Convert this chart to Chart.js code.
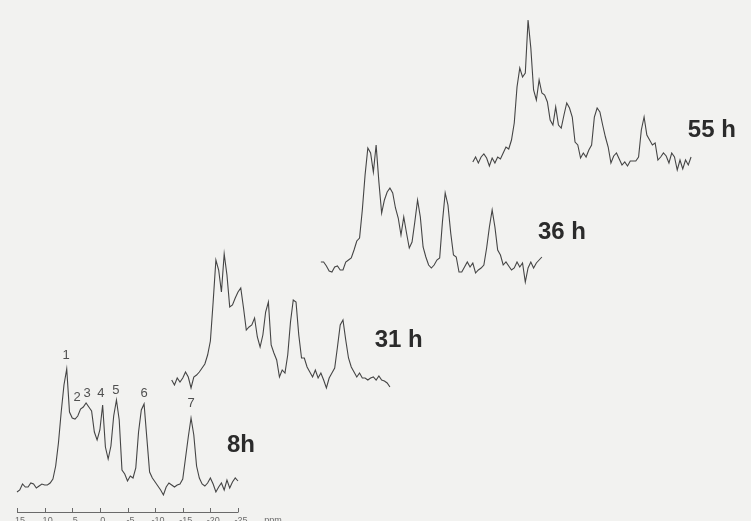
<!DOCTYPE html>
<html>
<head>
<meta charset="utf-8">
<script src="https://cdn.jsdelivr.net/npm/chart.js@4.4.1/dist/chart.umd.min.js"></script>
<style>
  html, body { margin: 0; padding: 0; background: #f2f2f0; }
  canvas { display: block; }
</style>
</head>
<body>
<canvas id="spectra" width="751" height="521"></canvas>
<script>
// sampling of every trace: 15 ppm down to -25 ppm, 0.5 ppm apart
const ppmStart = 15;
const ppmStep = 0.5;

const traceNames = ['8h', '31 h', '36 h', '55 h'];
// oblique stacking of the four spectra
const traceShiftPpm = [0, 28, 55, 82.5];
const traceBaseline = [34, 138, 253, 363];

const intensity8h = [
  -5, -3, 3, 0, 0, 4, 3, -1, 1, 3, 2, 2, 4, 8, 21, 44, 75, 102, 118, 75,
  69, 68, 71, 78, 80, 84, 80, 76, 55, 47, 57, 82, 40, 28, 41, 71, 87, 67, 17, 13,
  6, 11, 9, 19, 55, 77, 83, 49, 15, 9, 5, 1, -3, -8, 0, 4, 2, 0, 2, 3,
  8, 29, 50, 69, 52, 21, 9, 3, 1, 4, 9, 3, -5, 0, 4, -3, 7, -1, 5, 9, 6
];
const intensity31h = [
  3, -2, 5, 1, 5, 11, 6, -5, 6, 8, 11, 15, 19, 28, 42, 81, 123, 113, 91, 129,
  108, 76, 78, 85, 91, 95, 75, 53, 56, 58, 65, 46, 36, 48, 71, 81, 38, 30, 23, 6,
  13, 10, 28, 61, 83, 81, 48, 25, 25, 16, 11, 6, 13, 5, 10, 3, -5, 5, 10, 15,
  36, 58, 63, 43, 25, 16, 11, 6, 10, 5, 5, 3, 5, 6, 3, 7, 3, 2, 0, -4
];
const intensity36h = [
  6, 6, 2, -3, -4, 1, 2, -2, -2, 6, 8, 10, 18, 27, 30, 58, 93, 120, 115, 96,
  123, 86, 55, 68, 76, 80, 75, 60, 50, 33, 51, 35, 20, 26, 46, 68, 51, 21, 11, 3,
  0, 3, 8, 10, 46, 75, 63, 35, 13, 11, -4, -4, 1, 6, 1, 5, -5, -2, 0, 3,
  20, 41, 58, 41, 18, 13, 3, 6, 2, -2, 0, 6, 1, 5, -14, 0, 6, 0, 5, 8, 11
];
const intensity55h = [
  -4, 1, -5, 1, 4, 0, -8, 0, -5, 1, -1, 5, 11, 9, 18, 35, 71, 90, 81, 85,
  138, 110, 68, 58, 78, 65, 63, 56, 38, 33, 51, 33, 30, 43, 55, 50, 41, 16, 13, 0,
  5, 1, 8, 13, 41, 50, 46, 33, 21, 11, -5, 2, 5, -1, -7, -4, -8, -3, -3, -3,
  1, 28, 41, 23, 18, 13, 15, -2, 1, 5, 2, -5, 5, 1, -12, -2, -11, -2, -7, 1
];
const traceIntensities = [intensity8h, intensity31h, intensity36h, intensity55h];

// numbered resonances of the 8 h spectrum
const peakNumbers = ['1', '2', '3', '4', '5', '6', '7'];
const peakPpm = [6.1, 4.1, 2.3, -0.2, -2.9, -8.0, -16.5];

const axisTicksPpm = [15, 10, 5, 0, -5, -10, -15, -20, -25];
const axisTickLabels = ['15', '10', '5', '0', '-5', '-10', '-15', '-20', '-25'];
const axisUnit = 'ppm';

const ink = '#454545';

const datasets = traceIntensities.map((vals, t) => ({
  label: traceNames[t],
  data: vals.map((v, i) => ({
    x: ppmStart - i * ppmStep - traceShiftPpm[t],
    y: traceBaseline[t] + v
  })),
  borderColor: ink,
  borderWidth: 1.1,
  pointRadius: 0,
  tension: 0,
  fill: false
}));

const paperPlugin = {
  id: 'paper',
  beforeDraw(chart) {
    const ctx = chart.ctx;
    ctx.save();
    ctx.fillStyle = '#f2f2f0';
    ctx.fillRect(0, 0, chart.width, chart.height);
    ctx.restore();
  }
};

const annotatePlugin = {
  id: 'annotate',
  afterDatasetsDraw(chart, args, opts) {
    const ctx = chart.ctx;
    const xs = chart.scales.x;
    const ys = chart.scales.y;
    ctx.save();

    // ppm axis under the 8 h spectrum
    const axisY = ys.getPixelForValue(opts.axisLevel);
    const x0 = xs.getPixelForValue(axisTicksPpm[0]);
    const x1 = xs.getPixelForValue(axisTicksPpm[axisTicksPpm.length - 1]);
    ctx.strokeStyle = '#6a6a6a';
    ctx.lineWidth = 1;
    ctx.beginPath();
    ctx.moveTo(x0, axisY + 0.5);
    ctx.lineTo(x1, axisY + 0.5);
    axisTicksPpm.forEach(p => {
      const px = Math.round(xs.getPixelForValue(p)) + 0.5;
      ctx.moveTo(px, axisY + 0.5);
      ctx.lineTo(px, axisY - 4);
    });
    ctx.stroke();
    ctx.fillStyle = '#6a6a6a';
    ctx.font = '9px "Liberation Sans", Arial, sans-serif';
    ctx.textAlign = 'center';
    ctx.textBaseline = 'top';
    axisTicksPpm.forEach((p, k) => {
      ctx.fillText(axisTickLabels[k], xs.getPixelForValue(p) + 3, axisY + 4);
    });
    ctx.fillText(axisUnit, xs.getPixelForValue(axisTicksPpm[axisTicksPpm.length - 1]) + 35, axisY + 4);

    // peak numbers
    ctx.fillStyle = '#505050';
    ctx.font = '13px "Liberation Sans", Arial, sans-serif';
    ctx.textBaseline = 'middle';
    peakNumbers.forEach((n, k) => {
      ctx.fillText(n, xs.getPixelForValue(peakPpm[k]), ys.getPixelForValue(traceBaseline[0] + opts.peakLabelLift[k]));
    });

    // time labels
    ctx.fillStyle = '#2b2b2b';
    ctx.font = 'bold 24px "Liberation Sans", Arial, sans-serif';
    ctx.textAlign = 'left';
    ctx.textBaseline = 'alphabetic';
    traceNames.forEach((name, t) => {
      const endPpm = axisTicksPpm[axisTicksPpm.length - 1] - traceShiftPpm[t];
      const px = xs.getPixelForValue(endPpm) + opts.nameOffset[t][0];
      const py = ys.getPixelForValue(traceBaseline[t]) + opts.nameOffset[t][1];
      ctx.fillText(name, px, py);
    });
    ctx.restore();
  }
};

new Chart(document.getElementById('spectra'), {
  type: 'line',
  data: { datasets },
  options: {
    responsive: false,
    devicePixelRatio: 1,
    animation: false,
    events: [],
    layout: { padding: 0 },
    scales: {
      x: { type: 'linear', reverse: true, min: -117.85, max: 18.077, display: false },
      y: { type: 'linear', min: 0, max: 521, display: false }
    },
    plugins: {
      legend: { display: false },
      tooltip: { enabled: false },
      annotate: {
        axisLevel: 9,
        peakLabelLift: [132, 90, 94, 94, 97, 94, 84],
        nameOffset: [[-11, -35], [-18, -36], [-4, -29], [-6, -21]]
      }
    }
  },
  plugins: [paperPlugin, annotatePlugin]
});
</script>
</body>
</html>
